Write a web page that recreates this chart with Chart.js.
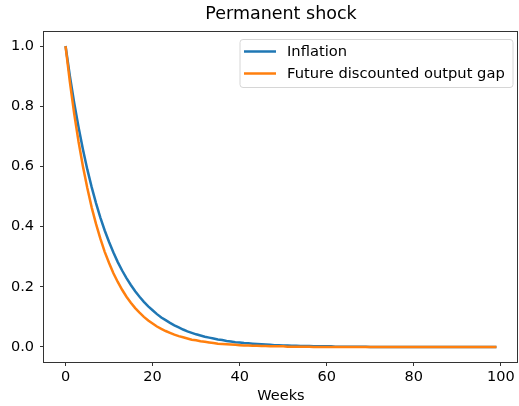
<!DOCTYPE html>
<html>
<head>
<meta charset="utf-8">
<script src="https://cdn.jsdelivr.net/npm/chart.js@4"></script>
<style>
  html, body { margin: 0; padding: 0; background: #fff; }
  #wrap { width: 519px; height: 406px; }
</style>
</head>
<body>
<div id="wrap"><canvas id="chart" width="519" height="406"></canvas></div>
<script>
// values, one per week (0..99)
const inflation = [
  1.000, 0.900, 0.810, 0.729, 0.656, 0.590, 0.531, 0.478, 0.430, 0.387,
  0.349, 0.314, 0.282, 0.254, 0.229, 0.206, 0.185, 0.167, 0.150, 0.135,
  0.122, 0.109, 0.098, 0.089, 0.080, 0.072, 0.065, 0.058, 0.052, 0.047,
  0.042, 0.038, 0.034, 0.031, 0.028, 0.025, 0.023, 0.020, 0.018, 0.016,
  0.015, 0.013, 0.012, 0.011, 0.010, 0.009, 0.008, 0.007, 0.006, 0.006,
  0.005, 0.005, 0.004, 0.004, 0.003, 0.003, 0.003, 0.002, 0.002, 0.002,
  0.002, 0.002, 0.001, 0.001, 0.001, 0.001, 0.001, 0.001, 0.001, 0.001,
  0.000, 0.000, 0.000, 0.000, 0.000, 0.000, 0.000, 0.000, 0.000, 0.000,
  0.000, 0.000, 0.000, 0.000, 0.000, 0.000, 0.000, 0.000, 0.000, 0.000,
  0.000, 0.000, 0.000, 0.000, 0.000, 0.000, 0.000, 0.000, 0.000, 0.000
]
const outputGap = [
  1.000, 0.880, 0.774, 0.681, 0.600, 0.528, 0.464, 0.409, 0.360, 0.316,
  0.279, 0.245, 0.216, 0.190, 0.167, 0.147, 0.129, 0.114, 0.100, 0.088,
  0.078, 0.068, 0.060, 0.053, 0.047, 0.041, 0.036, 0.032, 0.028, 0.024,
  0.022, 0.019, 0.017, 0.015, 0.013, 0.011, 0.010, 0.009, 0.008, 0.007,
  0.006, 0.005, 0.005, 0.004, 0.004, 0.003, 0.003, 0.002, 0.002, 0.002,
  0.002, 0.001, 0.001, 0.001, 0.001, 0.001, 0.001, 0.000, 0.000, 0.000,
  0.000, 0.000, 0.000, 0.000, 0.000, 0.000, 0.000, 0.000, 0.000, 0.000,
  0.000, 0.000, 0.000, 0.000, 0.000, 0.000, 0.000, 0.000, 0.000, 0.000,
  0.000, 0.000, 0.000, 0.000, 0.000, 0.000, 0.000, 0.000, 0.000, 0.000,
  0.000, 0.000, 0.000, 0.000, 0.000, 0.000, 0.000, 0.000, 0.000, 0.000
]
const weeks = inflation.map((_, i) => i)
const xTicks = [0, 20, 40, 60, 80, 100]
const yTicks = [0.0, 0.2, 0.4, 0.6, 0.8, 1.0]

const FONT = 'DejaVu Sans'
const toPoints = (arr) => arr.map((v, i) => ({ x: weeks[i], y: v }))

// matplotlib style frame on all four sides
const framePlugin = {
  id: 'frame',
  afterDatasetsDraw(chart) {
    const { ctx, chartArea: a } = chart
    ctx.save()
    ctx.strokeStyle = '#333'
    ctx.lineWidth = 1
    ctx.strokeRect(Math.round(a.left) - 0.5, Math.round(a.top) + 0.5,
      Math.round(a.right - a.left), Math.round(a.bottom - a.top))
    ctx.restore()
  }
}

// legend box in the upper right corner of the plot
const legendPlugin = {
  id: 'boxLegend',
  afterDraw(chart) {
    const { ctx, chartArea: a } = chart
    const x0 = a.right - 278, y0 = a.top + 8.5, w = 273, h = 48
    ctx.save()
    ctx.beginPath()
    ctx.roundRect(x0, y0, w, h, 3)
    ctx.fillStyle = 'rgba(255,255,255,0.8)'
    ctx.fill()
    ctx.strokeStyle = '#d6d6d6'
    ctx.lineWidth = 1
    ctx.stroke()
    ctx.font = '14.7px "' + FONT + '"'
    ctx.textBaseline = 'middle'
    chart.data.datasets.forEach((ds, i) => {
      const y = y0 + 12 + i * 22
      ctx.beginPath()
      ctx.moveTo(x0 + 4, y)
      ctx.lineTo(x0 + 36, y)
      ctx.strokeStyle = ds.borderColor
      ctx.lineWidth = 2.5
      ctx.stroke()
      ctx.fillStyle = '#000'
      ctx.fillText(ds.label, x0 + 47, y + 1)
    })
    ctx.restore()
  }
}

new Chart(document.getElementById('chart'), {
  type: 'line',
  data: {
    datasets: [
      {
        label: 'Inflation',
        data: toPoints(inflation),
        borderColor: '#1f77b4',
        borderWidth: 2.5,
        pointRadius: 0,
        order: 1
      },
      {
        label: 'Future discounted output gap',
        data: toPoints(outputGap),
        borderColor: '#ff7f0e',
        borderWidth: 2.5,
        pointRadius: 0,
        order: 0
      }
    ]
  },
  options: {
    responsive: false,
    animation: false,
    layout: { padding: { left: 0, right: 1, top: 0, bottom: 0 } },
    plugins: {
      legend: { display: false },
      tooltip: { enabled: false },
      title: {
        display: true,
        text: 'Permanent shock',
        fullSize: false,
        color: '#000',
        font: { family: FONT, size: 17.5, weight: 'normal' },
        padding: { top: 4, bottom: 6 }
      }
    },
    scales: {
      x: {
        type: 'linear',
        min: -4.95,
        max: 103.95,
        afterBuildTicks: (s) => { s.ticks = xTicks.map(v => ({ value: v })) },
        afterFit: (s) => { s.height = 44 },
        ticks: {
          color: '#000',
          padding: 3,
          maxRotation: 0,
          font: { family: FONT, size: 14.5 },
          callback: (v) => String(v)
        },
        grid: { drawOnChartArea: false, drawTicks: true, tickLength: 4, color: '#333' },
        border: { display: false },
        title: {
          display: true,
          text: 'Weeks',
          color: '#000',
          font: { family: FONT, size: 14.5 },
          padding: { top: 2, bottom: 1 }
        }
      },
      y: {
        min: -0.05,
        max: 1.05,
        afterBuildTicks: (s) => { s.ticks = yTicks.map(v => ({ value: v })) },
        afterFit: (s) => { s.width = 44 },
        ticks: {
          color: '#000',
          padding: 6,
          font: { family: FONT, size: 14.5 },
          callback: (v) => Number(v).toFixed(1)
        },
        grid: { drawOnChartArea: false, drawTicks: true, tickLength: 4, color: '#333' },
        border: { display: false }
      }
    }
  },
  plugins: [framePlugin, legendPlugin]
})
</script>
</body>
</html>
